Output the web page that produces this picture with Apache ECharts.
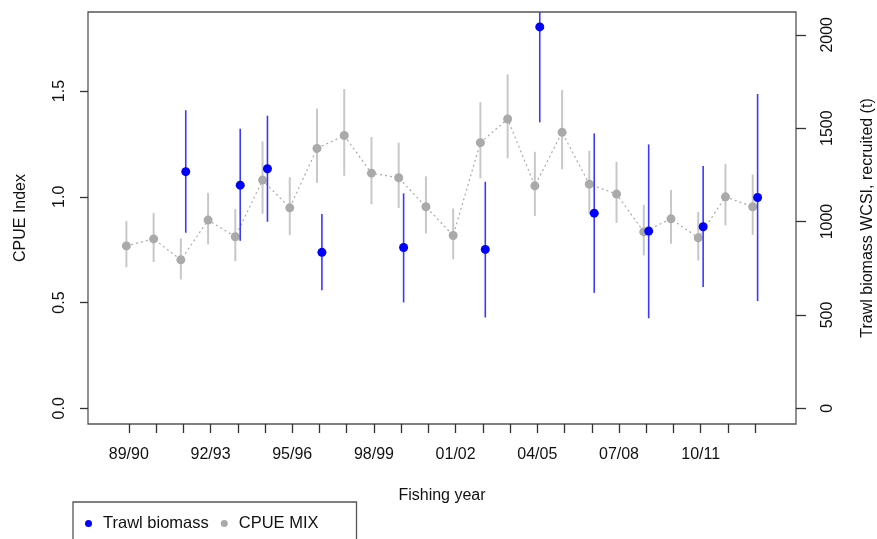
<!DOCTYPE html>
<html>
<head>
<meta charset="utf-8">
<script src="https://cdn.jsdelivr.net/npm/echarts@6/dist/echarts.min.js"></script>
<style>
  html, body { margin: 0; padding: 0; background: #fff; }
  #chart { width: 877px; height: 539px; }
</style>
</head>
<body>
<div id="chart"></div>
<script>
// fishing years shown on the x axis
var years = ['89/90', '90/91', '91/92', '92/93', '93/94', '94/95', '95/96', '96/97',
    '97/98', '98/99', '99/00', '00/01', '01/02', '02/03', '03/04', '04/05',
    '05/06', '06/07', '07/08', '08/09', '09/10', '10/11', '11/12', '12/13'];

// CPUE MIX index with its interval (left axis)
var cpue   = [0.768, 0.801, 0.702, 0.890, 0.811, 1.079, 0.948, 1.229, 1.290, 1.112, 1.090, 0.953,
              0.817, 1.256, 1.368, 1.052, 1.305, 1.060, 1.013, 0.834, 0.896, 0.806, 1.000, 0.953];
var cpueLo = [0.667, 0.692, 0.609, 0.775, 0.696, 0.920, 0.819, 1.066, 1.099, 0.965, 0.947, 0.827,
              0.705, 1.087, 1.182, 0.909, 1.130, 0.920, 0.877, 0.723, 0.778, 0.699, 0.865, 0.820];
var cpueHi = [0.885, 0.924, 0.803, 1.019, 0.942, 1.262, 1.093, 1.417, 1.510, 1.283, 1.256, 1.097,
              0.945, 1.448, 1.579, 1.213, 1.505, 1.218, 1.166, 0.962, 1.032, 0.929, 1.156, 1.106];

// trawl survey biomass (t) with its interval (right axis)
var trawlYears = ['91/92', '93/94', '94/95', '96/97', '99/00', '02/03', '04/05', '06/07', '08/09', '10/11', '12/13'];
var trawl   = [1267, 1195, 1283, 835, 861, 851, 2042, 1045, 949, 972, 1129];
var trawlLo = [940, 897, 999, 632, 567, 486, 1531, 618, 482, 649, 574];
var trawlHi = [1596, 1497, 1567, 1040, 1151, 1213, 2560, 1472, 1413, 1297, 1683];

var leftTicks = [0, 0.5, 1.0, 1.5];
var rightTicks = [0, 500, 1000, 1500, 2000];

var chart = echarts.init(document.getElementById('chart'));

// one empty slot at each end so the years sit inside the box like in R
var cats = [''].concat(years, ['']);

var cpueBars = years.map((y, i) => [i - 0.09, cpueLo[i], cpueHi[i]]);
var cpuePts = years.map((y, i) => [i - 0.09, cpue[i]]);
var trawlBars = trawlYears.map((y, i) => [years.indexOf(y) + 0.09, trawlLo[i], trawlHi[i]]);
var trawlPts = trawlYears.map((y, i) => [years.indexOf(y) + 0.09, trawl[i]]);

function errBar(color, width) {
    return function (params, api) {
        var a = api.coord([api.value(0), api.value(1)]);
        var b = api.coord([api.value(0), api.value(2)]);
        return {
            type: 'line',
            shape: {x1: a[0], y1: a[1], x2: b[0], y2: b[1]},
            style: {stroke: color, lineWidth: width}
        };
    };
}

var font = 'Liberation Sans';
var axisCol = '#555';

var option = {
    animation: false,
    textStyle: {fontFamily: font},
    grid: {
        left: 88, right: 81, top: 12, bottom: 115,
        outerBoundsMode: 'none',
        show: true, borderColor: axisCol, borderWidth: 1.3, backgroundColor: 'transparent'
    },
    legend: {
        left: 73, top: 502,
        data: ['Trawl biomass', 'CPUE MIX'],
        icon: 'circle',
        itemWidth: 7, itemHeight: 7, itemGap: 12,
        padding: [13, 38, 20, 12],
        borderColor: axisCol, borderWidth: 1.3,
        textStyle: {fontFamily: font, fontSize: 16.5, color: '#111', padding: [0, 0, 0, 6]}
    },
    xAxis: [
        {
            type: 'category',
            data: cats,
            boundaryGap: true,
            position: 'bottom',
            name: 'Fishing year',
            nameLocation: 'middle',
            nameGap: 64,
            nameTextStyle: {fontSize: 16, color: '#111'},
            axisLine: {show: false, onZero: false},
            axisTick: {
                show: true, alignWithLabel: true, length: 9,
                interval: (i) => i > 0 && i < cats.length - 1,
                lineStyle: {color: '#333', width: 1.3}
            },
            axisLabel: {
                interval: (i) => i > 0 && (i - 1) % 3 === 0 && i < cats.length - 1,
                fontSize: 16, color: '#111', margin: 23
            },
            splitLine: {show: false}
        },
        {
            type: 'value',
            min: -1.5, max: 24.5,
            axisLine: {onZero: false},
            show: false
        }
    ],
    yAxis: [
        {
            type: 'value',
            min: -0.0743, max: 1.874,
            name: 'CPUE Index',
            nameLocation: 'middle',
            nameGap: 59,
            nameRotate: 90,
            nameTextStyle: {fontSize: 16, color: '#111'},
            axisLine: {show: false, onZero: false},
            axisTick: {show: true, length: 8, customValues: leftTicks, lineStyle: {color: '#333', width: 1.3}},
            axisLabel: {
                customValues: leftTicks, rotate: 90, fontSize: 16, color: '#111', margin: 20,
                formatter: (v) => v.toFixed(1)
            },
            splitLine: {show: false}
        },
        {
            type: 'value',
            position: 'right',
            min: -84, max: 2122,
            name: 'Trawl biomass WCSI, recruited (t)',
            nameLocation: 'middle',
            nameGap: 64,
            nameRotate: 90,
            nameTextStyle: {fontSize: 16, color: '#111'},
            axisLine: {show: false, onZero: false},
            axisTick: {show: true, length: 10, customValues: rightTicks, lineStyle: {color: '#333', width: 1.3}},
            axisLabel: {
                customValues: rightTicks, rotate: 90, fontSize: 16, color: '#111', margin: 24,
                formatter: (v) => String(v)
            },
            splitLine: {show: false}
        }
    ],
    series: [
        {
            name: 'CPUE bars',
            type: 'custom',
            xAxisIndex: 1, yAxisIndex: 0,
            renderItem: errBar('#c8c8c8', 2),
            encode: {x: 0, y: [1, 2]},
            data: cpueBars,
            clip: true,
            z: 1
        },
        {
            name: 'CPUE MIX',
            type: 'line',
            xAxisIndex: 1, yAxisIndex: 0,
            data: cpuePts,
            symbol: 'circle',
            symbolSize: 9,
            itemStyle: {color: '#aaaaaa'},
            lineStyle: {color: '#aaaaaa', width: 1.2, type: [2, 3]},
            z: 2
        },
        {
            name: 'Trawl bars',
            type: 'custom',
            xAxisIndex: 1, yAxisIndex: 1,
            renderItem: errBar('#3a3aff', 1.6),
            encode: {x: 0, y: [1, 2]},
            data: trawlBars,
            clip: true,
            z: 3
        },
        {
            name: 'Trawl biomass',
            type: 'scatter',
            xAxisIndex: 1, yAxisIndex: 1,
            data: trawlPts,
            symbol: 'circle',
            symbolSize: 9,
            itemStyle: {color: '#0000ff', opacity: 1},
            z: 4
        }
    ]
};

option && chart.setOption(option);
</script>
</body>
</html>
